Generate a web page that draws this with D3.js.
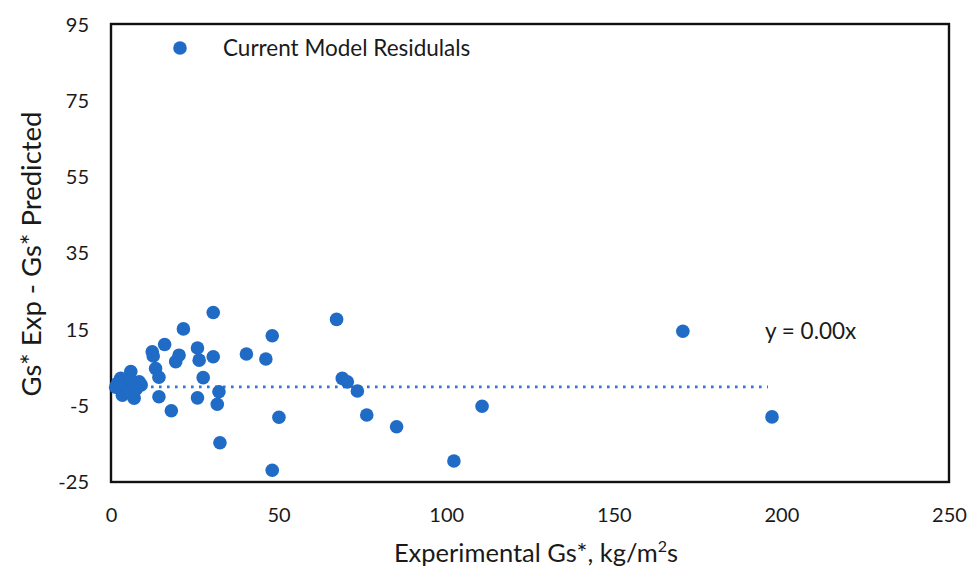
<!DOCTYPE html>
<html>
<head>
<meta charset="utf-8">
<script src="https://cdn.jsdelivr.net/npm/d3@7/dist/d3.min.js"></script>
<style>
  body { margin: 0; background: #fff; }
  text { font-family: Lato, "Open Sans", sans-serif; fill: #1a1a1a; }
</style>
</head>
<body>
<svg id="chart" width="974" height="574"></svg>
<script>
// residuals: experimental Gs* vs (exp - predicted)
const gsExp = [30.5, 21.6, 48.1, 67.3, 16.0, 12.3, 12.6, 20.3, 19.3, 25.8, 26.3, 30.5,
  40.4, 46.2, 13.3, 14.3, 27.5, 8.4, 5.9, 2.9, 1.4, 3.4, 6.9, 14.3, 25.8, 32.2,
  31.7, 18.0, 50.1, 32.5, 48.1, 69.0, 70.5, 73.5, 76.3, 85.2, 102.3, 110.7, 170.6, 197.2,
  4.0, 6.0, 9.0, 2.0, 7.5, 5.0];
const residual = [19.5, 15.2, 13.4, 17.7, 11.1, 9.2, 8.1, 8.3, 6.6, 10.2, 7.0, 7.9,
  8.6, 7.3, 4.8, 2.5, 2.4, 1.3, 4.0, 2.2, -0.1, -2.2, -3.0, -2.6, -2.9, -1.3,
  -4.6, -6.3, -8.0, -14.7, -21.9, 2.2, 1.3, -1.1, -7.4, -10.5, -19.5, -5.1, 14.6, -7.9,
  0.8, 1.5, 0.5, 1.0, -0.6, -1.5];
const xTicks = [0, 50, 100, 150, 200, 250];
const yTicks = [-25, -5, 15, 35, 55, 75, 95];
const trendX = [0, 196];   // fitted line y = 0.00x
const seriesName = "Current Model Residulals";
const trendLabel = "y = 0.00x";

const blue = "#1f6bc5";
const svg = d3.select("#chart");
const L = 111, R = 949, T = 25, B = 482;

const x = d3.scaleLinear().domain([0, 250]).range([L, R]);
const y = d3.scaleLinear().domain([-25, 95]).range([B, T]);

// y tick labels (plain hyphen like the original)
svg.append("g")
  .attr("transform", `translate(${L},0)`)
  .call(d3.axisLeft(y).tickValues(yTicks).tickFormat(d => String(d)).tickSize(0).tickPadding(22))
  .call(g => g.select(".domain").remove())
  .selectAll("text")
  .attr("font-size", 20)
  .attr("font-family", "Lato, sans-serif")
  .attr("fill", "#1a1a1a");

// x tick labels
svg.append("g")
  .attr("transform", `translate(0,${B})`)
  .call(d3.axisBottom(x).tickValues(xTicks).tickSize(0).tickPadding(26))
  .call(g => g.select(".domain").remove())
  .selectAll("text")
  .attr("font-size", 20)
  .attr("font-family", "Lato, sans-serif")
  .attr("fill", "#1a1a1a");

// plot frame
svg.append("rect")
  .attr("x", L).attr("y", T - 1)
  .attr("width", R - L).attr("height", B - T + 1)
  .attr("fill", "none")
  .attr("stroke", "#111")
  .attr("stroke-width", 2.4);

// trend line
svg.append("line")
  .attr("x1", x(trendX[0])).attr("x2", x(trendX[1]))
  .attr("y1", y(0)).attr("y2", y(0))
  .attr("stroke", "#2a78d6")
  .attr("stroke-width", 2.8)
  .attr("stroke-dasharray", "2.6,5.4");

// points
svg.append("g")
  .selectAll("circle")
  .data(gsExp.map((v, i) => [v, residual[i]]))
  .join("circle")
  .attr("cx", d => x(d[0]))
  .attr("cy", d => y(d[1]))
  .attr("r", 6.8)
  .attr("fill", blue);

// legend
svg.append("circle").attr("cx", 180).attr("cy", 48).attr("r", 6.8).attr("fill", blue);
svg.append("text").attr("x", 223).attr("y", 56).attr("font-size", 22.5).text(seriesName);

svg.append("text").attr("x", 765).attr("y", 339).attr("font-size", 22.5).text(trendLabel);

// axis titles
svg.append("text")
  .attr("transform", "translate(41,254) rotate(-90)")
  .attr("text-anchor", "middle")
  .attr("font-size", 27.5)
  .text("Gs* Exp - Gs* Predicted");

const xt = svg.append("text")
  .attr("x", 536).attr("y", 562)
  .attr("text-anchor", "middle")
  .attr("font-size", 25.5)
  .text("Experimental Gs*, kg/m");
xt.append("tspan").attr("font-size", 16).attr("dy", -10).text("2");
xt.append("tspan").attr("dy", 10).text("s");
</script>
</body>
</html>
